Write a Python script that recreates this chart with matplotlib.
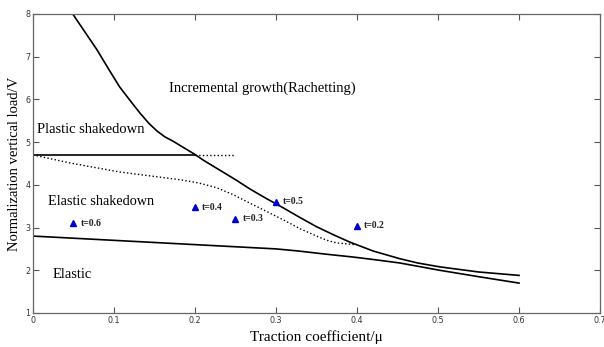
import numpy as np
import matplotlib.pyplot as plt

# upper boundary (incremental growth / ratchetting)
mu_up = [0.049, 0.064, 0.079, 0.093, 0.107, 0.12, 0.132, 0.143, 0.153, 0.163, 0.173, 0.186, 0.2, 0.21,
         0.23, 0.25, 0.268, 0.288, 0.309, 0.33, 0.35, 0.371, 0.391, 0.42, 0.453, 0.475, 0.502, 0.55, 0.6]
v_up = [8.0, 7.58, 7.16, 6.72, 6.29, 5.97, 5.68, 5.44, 5.26, 5.12, 5.02, 4.87, 4.71, 4.58,
        4.35, 4.12, 3.9, 3.68, 3.46, 3.23, 3.02, 2.83, 2.66, 2.45, 2.27, 2.17, 2.08, 1.96, 1.88]

# elastic limit
mu_el = [0, 0.1, 0.2, 0.3, 0.328, 0.36, 0.395, 0.425, 0.453, 0.502, 0.55, 0.6]
v_el = [2.8, 2.7, 2.6, 2.5, 2.45, 2.38, 2.31, 2.24, 2.17, 2.0, 1.85, 1.70]

# shakedown limit (dotted)
mu_sd = [0, 0.046, 0.107, 0.144, 0.185, 0.205, 0.227, 0.247, 0.268, 0.289, 0.309, 0.33, 0.35, 0.363,
         0.375, 0.397]
v_sd = [4.7, 4.51, 4.30, 4.21, 4.11, 4.04, 3.93, 3.77, 3.57, 3.37, 3.18, 2.97, 2.8, 2.7,
        2.64, 2.6]

# plastic shakedown limit
v_ps = 4.7
mu_ps_solid = [0, 0.2]
mu_ps_dot = [0.2, 0.249]

# test points
t_mu = [0.05, 0.2, 0.25, 0.3, 0.4]
t_v = [3.1, 3.48, 3.2, 3.6, 3.04]
t_lab = ['t=0.6', 't=0.4', 't=0.3', 't=0.5', 't=0.2']

serif = 'Liberation Serif'

fig = plt.figure(figsize=(6.04, 3.47), dpi=100)
ax = fig.add_axes([0.0546, 0.098, 0.9388, 0.862])

ax.plot(mu_up, v_up, color='black', lw=1.2)
ax.plot(mu_el, v_el, color='black', lw=1.2)
ax.plot(mu_sd, v_sd, color='black', lw=1.0, ls=':')
ax.plot(mu_ps_solid, [v_ps, v_ps], color='black', lw=1.2)
ax.plot(mu_ps_dot, [v_ps, v_ps], color='black', lw=1.0, ls=':')

ax.plot(t_mu, t_v, ls='none', marker='^', color='#0000cc', ms=5)
for m, v, s in zip(t_mu, t_v, t_lab):
    ax.text(m + 0.009, v, s, fontsize=7, fontweight='bold', family=serif,
            va='center', ha='left', color='#222222')

ax.text(0.168, 6.25, 'Incremental growth(Rachetting)', fontsize=10.5, family=serif, va='center')
ax.text(0.005, 5.3, 'Plastic shakedown', fontsize=10.5, family=serif, va='center')
ax.text(0.019, 3.6, 'Elastic shakedown', fontsize=10.3, family=serif, va='center')
ax.text(0.024, 1.9, 'Elastic', fontsize=10.5, family=serif, va='center')

ax.set_xlim(0, 0.7)
ax.set_ylim(1, 8)
ax.set_xticks([0, 0.1, 0.2, 0.3, 0.4, 0.5, 0.6, 0.7])
ax.set_xticklabels(['0', '0.1', '0.2', '0.3', '0.4', '0.5', '0.6', '0.7'])
ax.set_yticks(range(1, 9))
ax.tick_params(direction='in', top=True, right=True, length=4, width=0.8,
               labelsize=5.8, colors='#555555', labelcolor='#333333', pad=2)
for sp in ax.spines.values():
    sp.set_color('#666666')
    sp.set_linewidth(0.9)

ax.set_xlabel('Traction coefficient/μ', fontsize=11, family=serif, labelpad=4)
ax.set_ylabel('Normalization vertical load/V', fontsize=10.5, family=serif, labelpad=3)

fig.savefig('out.png', dpi=100)
